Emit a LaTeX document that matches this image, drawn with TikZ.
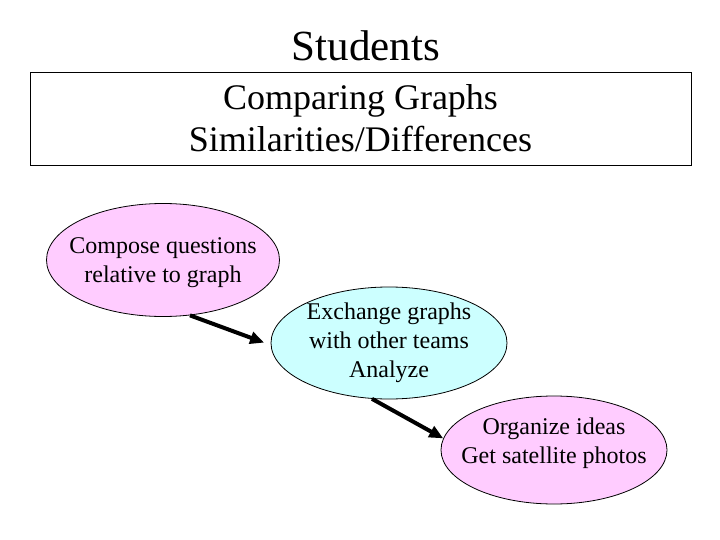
\documentclass[tikz,border=0pt]{standalone}
\usepackage{fontspec}
\setmainfont{Liberation Serif}
\usetikzlibrary{shapes.geometric,arrows.meta}
\definecolor{pinkfill}{HTML}{FFCCFF}
\definecolor{cyanfill}{HTML}{CCFFFF}
\tikzset{
  bubble/.style={ellipse, draw=black, line width=0.8pt, inner sep=0pt},
  bubbletext/.style={align=center, inner sep=0pt, font=\fontsize{24}{29}\selectfont},
  flow/.style={line width=4pt, -{Triangle[length=14pt,width=12pt]}},
}
\begin{document}
\begin{tikzpicture}[x=1pt,y=-1pt]
\useasboundingbox (0,0) rectangle (720,540);
\node[font=\fontsize{43}{48}\selectfont] (title) at (366,46) {Students};
\node[draw=black, line width=0.8pt, minimum width=661pt, minimum height=93pt, align=center,
  font=\fontsize{36}{42}\selectfont] (box) at (360.5,118.5) {Comparing Graphs\\Similarities/Differences};
\node[bubble, fill=pinkfill, minimum width=233pt, minimum height=113pt] (e1) at (163,260) {};
\node[bubbletext] (t1) at (163,263) {Compose questions\\relative to graph};
\node[bubble, fill=cyanfill, minimum width=236pt, minimum height=112pt] (e2) at (389,343) {};
\node[bubbletext] (t2) at (e2) {Exchange graphs\\with other teams\\Analyze};
\node[bubble, fill=pinkfill, minimum width=226pt, minimum height=108pt] (e3) at (554,450) {};
\node[bubbletext] (t3) at (554,443) {Organize ideas\\Get satellite photos};
\draw[flow, shorten >=7pt] (e1.-64) -- (e2.181);
\draw[flow] (e2.-107) -- (e3.174);
\end{tikzpicture}
\end{document}
